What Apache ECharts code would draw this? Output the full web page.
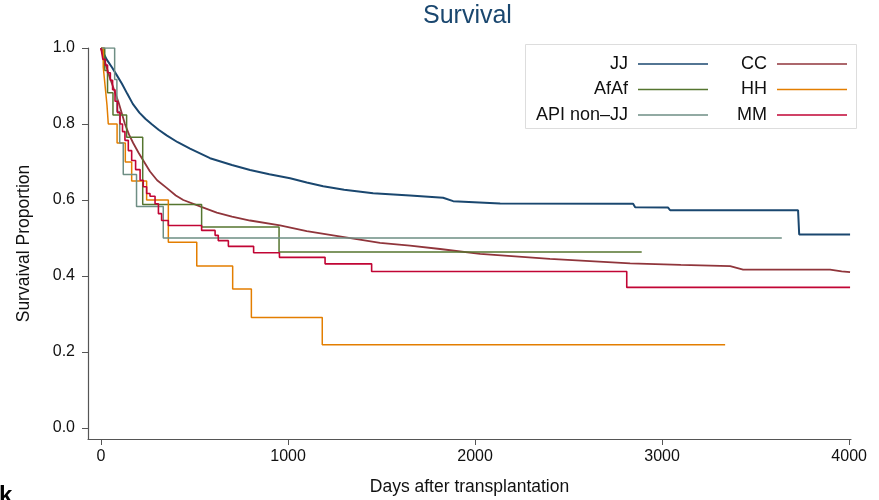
<!DOCTYPE html>
<html>
<head>
<meta charset="utf-8">
<title>Survival</title>
<script src="https://cdn.jsdelivr.net/npm/echarts@6/dist/echarts.min.js"></script>
<style>
  html, body { margin: 0; padding: 0; background: #fff; }
  #chart { width: 879px; height: 500px; }
</style>
</head>
<body>
<div id="chart"></div>
<script>
// survival curves: [days, proportion]
const jj = [[0,1],[15,0.985],[30,0.97],[60,0.948],[85,0.928],[112,0.906],[140,0.88],[170,0.853],[205,0.83],[237,0.814],[270,0.8],[308,0.785],[351,0.77],[410,0.752],[476,0.735],[583,0.71],[700,0.692],[797,0.679],[900,0.668],[1011,0.657],[1100,0.646],[1188,0.636],[1300,0.627],[1455,0.618],[1652,0.612],[1829,0.606],[1883,0.597],[2134,0.591],[2845,0.59],[2856,0.581],[3032,0.58],[3043,0.573],[3727,0.573],[3733,0.509],[4005,0.509]];
const cc = [[0,1],[20,0.965],[45,0.925],[70,0.89],[95,0.855],[128,0.8],[150,0.772],[172,0.75],[200,0.725],[226,0.704],[262,0.675],[300,0.652],[351,0.632],[400,0.612],[440,0.6],[540,0.581],[619,0.567],[700,0.556],[797,0.546],[957,0.533],[1100,0.518],[1241,0.507],[1367,0.497],[1492,0.487],[1652,0.48],[1813,0.471],[2027,0.458],[2400,0.445],[2829,0.433],[3100,0.429],[3364,0.426],[3433,0.417],[3898,0.417],[3960,0.412],[4005,0.41]];
const afaf = [[0,1],[20,0.941],[35,0.882],[64,0.824],[137,0.765],[223,0.588],[538,0.529],[952,0.463],[2891,0.463]];
const hh = [[0,1],[12,0.95],[22,0.9],[32,0.85],[39,0.8],[86,0.75],[130,0.7],[164,0.65],[244,0.6],[360,0.489],[512,0.426],[704,0.366],[804,0.291],[1183,0.219],[3337,0.219]];
const apiNonJJ = [[0,1],[73,0.917],[85,0.833],[100,0.75],[119,0.667],[190,0.583],[333,0.5],[3640,0.5]];
const mm = [[0,1],[10,0.97],[23,0.955],[35,0.935],[50,0.915],[62,0.89],[75,0.86],[88,0.83],[102,0.8],[115,0.78],[128,0.757],[146,0.73],[164,0.704],[185,0.68],[209,0.652],[226,0.635],[244,0.617],[262,0.61],[289,0.59],[307,0.564],[324,0.546],[360,0.533],[538,0.52],[610,0.507],[627,0.493],[681,0.478],[816,0.461],[954,0.449],[1198,0.432],[1447,0.412],[2811,0.37],[4005,0.37]];

const xTicks = [0, 1000, 2000, 3000, 4000];
const yTicks = [0, 0.2, 0.4, 0.6, 0.8, 1.0];

const colors = {
  'JJ': '#1a476f',
  'CC': '#90353b',
  'AfAf': '#55752f',
  'HH': '#e37e00',
  'API non–JJ': '#6e8e84',
  'MM': '#c10534'
};

var chartDom = document.getElementById('chart');
var myChart = echarts.init(chartDom);
var option;

function curve(name, data, step, width) {
  return {
    name: name,
    type: 'line',
    data: data,
    step: step ? 'end' : false,
    symbol: 'none',
    lineStyle: { width: width, color: colors[name] },
    itemStyle: { color: colors[name] },
    emphasis: { disabled: true },
    animation: false
  };
}

const legendText = { fontSize: 18, color: '#111', fontFamily: 'Liberation Sans, Arial, sans-serif', padding: [0, 5, 0, 0] };

function legendColumn(names, right) {
  return {
    data: names,
    orient: 'vertical',
    align: 'right',
    right: right,
    top: 55,
    padding: 0,
    icon: 'rect',
    itemWidth: 70,
    itemHeight: 1.5,
    itemGap: 7.5,
    selectedMode: false,
    textStyle: legendText
  };
}

option = {
  backgroundColor: '#fff',
  textStyle: { fontFamily: 'Liberation Sans, Arial, sans-serif' },
  title: {
    text: 'Survival',
    left: 423,
    top: 4,
    padding: 0,
    textStyle: { fontSize: 25, fontWeight: 'normal', color: '#1a476f' }
  },
  grid: {
    left: 88,
    right: 28,
    top: 48,
    bottom: 61,
    outerBoundsMode: 'none'
  },
  legend: [
    legendColumn(['JJ', 'AfAf', 'API non–JJ'], 171),
    legendColumn(['CC', 'HH', 'MM'], 32)
  ],
  graphic: [
    {
      type: 'rect',
      z: 1,
      shape: { x: 525.5, y: 44.5, width: 331, height: 84 },
      style: { fill: '#fff', stroke: '#dddddd', lineWidth: 1 }
    },
    {
      type: 'text',
      left: -1,
      top: 484,
      style: { text: 'k', fontSize: 24, fontWeight: 'bold', fill: '#000', fontFamily: 'Liberation Sans, Arial, sans-serif' }
    }
  ],
  xAxis: {
    type: 'value',
    min: -69.5,
    max: 4010,
    name: 'Days after transplantation',
    nameLocation: 'middle',
    nameGap: 39,
    nameTextStyle: { fontSize: 17.5, color: '#111' },
    axisLine: { onZero: false, lineStyle: { color: '#555', width: 1.2 } },
    axisTick: { customValues: xTicks, length: 6, lineStyle: { color: '#555' } },
    axisLabel: {
      customValues: xTicks,
      fontSize: 16,
      color: '#111',
      margin: 10,
      formatter: function (v) { return String(v); }
    },
    splitLine: { show: false }
  },
  yAxis: {
    type: 'value',
    min: -0.029,
    max: 1.0,
    name: 'Survaival Proportion',
    nameLocation: 'middle',
    nameGap: 55,
    nameTextStyle: { fontSize: 17.5, color: '#111' },
    axisLine: { show: true, onZero: false, lineStyle: { color: '#555', width: 1.2 } },
    axisTick: { show: true, customValues: yTicks, length: 6, lineStyle: { color: '#555' } },
    axisLabel: {
      customValues: yTicks,
      fontSize: 16,
      color: '#111',
      margin: 13,
      formatter: function (v) { return v.toFixed(1); }
    },
    splitLine: { show: false }
  },
  series: [
    curve('JJ', jj, false, 2),
    curve('CC', cc, false, 1.8),
    curve('AfAf', afaf, true, 1.5),
    curve('HH', hh, true, 1.5),
    curve('API non–JJ', apiNonJJ, true, 1.5),
    curve('MM', mm, true, 1.6)
  ]
};

option && myChart.setOption(option);
</script>
</body>
</html>
